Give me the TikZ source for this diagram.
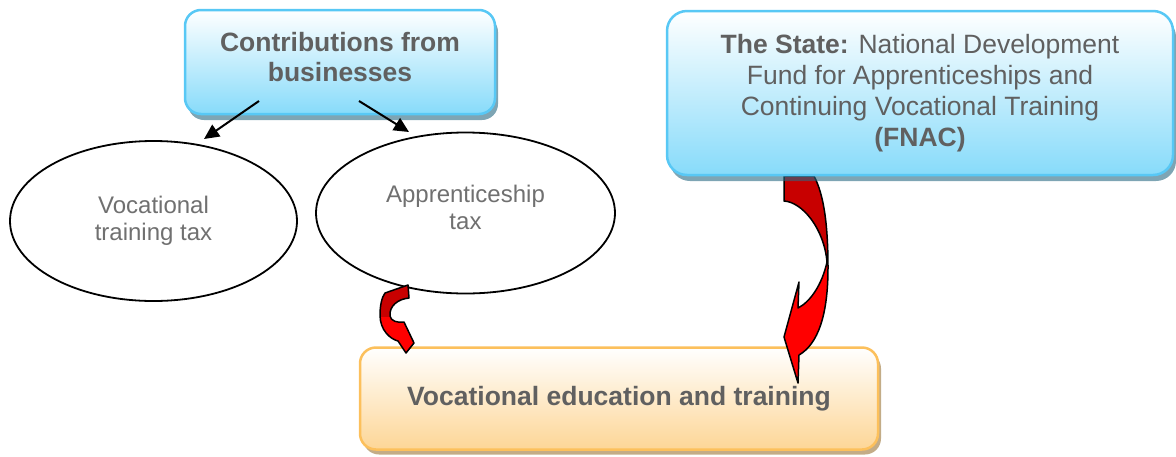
\documentclass[tikz,border=0pt]{standalone}
\usepackage{fontspec}
\setmainfont{Liberation Sans}
\usetikzlibrary{shapes.geometric,arrows.meta,shadows}
\definecolor{txtgray}{RGB}{96,96,96}
\definecolor{elltxt}{RGB}{112,112,112}
\definecolor{bluebot}{RGB}{135,219,250}
\definecolor{blueline}{RGB}{88,200,245}
\definecolor{blueshadow}{RGB}{40,105,130}
\definecolor{orangebot}{RGB}{253,214,150}
\definecolor{orangeline}{RGB}{252,192,92}
\definecolor{orangeshadow}{RGB}{195,172,135}
\definecolor{darkred}{RGB}{200,0,0}
\definecolor{brightred}{RGB}{255,0,0}
\begin{document}
\begin{tikzpicture}[x=1pt,y=-1pt,
  bluebox/.style={rectangle, rounded corners=16pt, draw=blueline, line width=2.5pt,
    top color=white, bottom color=bluebot, inner sep=0pt,
    drop shadow={shadow xshift=3pt, shadow yshift=-6pt, fill=blueshadow, opacity=0.6}},
  orangebox/.style={rectangle, rounded corners=16pt, draw=orangeline, line width=2.5pt,
    top color=white, bottom color=orangebot, inner sep=0pt,
    drop shadow={shadow xshift=3pt, shadow yshift=-5pt, fill=orangeshadow, opacity=1}},
  boldtxt/.style={font=\fontsize{26.5}{30}\selectfont\bfseries, text=txtgray, align=center, inner sep=0pt},
  ell/.style={ellipse, draw, line width=1.8pt, fill=white, inner sep=0pt,
    font=\fontsize{24}{27}\selectfont, text=elltxt, align=center},
  elltext/.style={font=\fontsize{24}{27}\selectfont, text=elltxt, align=center, inner sep=0pt},
  conn/.style={line width=2pt, -{Triangle[length=15pt,width=14pt]}},
  ribbon/.style={line width=1.5pt, line join=round}
]
\useasboundingbox (0,0) rectangle (1176,456);

% bottom box
\node[orangebox, minimum width=518pt, minimum height=102pt,
  font=\fontsize{26.5}{30}\selectfont\bfseries, text=txtgray] (vet) at (619,398.5)
  {Vocational education and training};

% ellipses
\node[ell, minimum width=287pt, minimum height=160pt] (vtt) at (153.5,221) {Vocational\\training tax};
\node[ell, minimum width=299pt, minimum height=161pt] (app) at (465.5,213) {};
\node[elltext] (apptxt) at (465.5,207) {Apprenticeship\\tax};

% small curved arrow
\def\smallarrow{(385,293) -- (408,285) -- (409,298)
  .. controls (398,299) and (389,306) .. (390,316)
  .. controls (391,321) and (397,323) .. (404,322)
  -- (414,343) -- (406,353) -- (398,341)
  .. controls (390,339) and (380,330) .. (380,315)
  .. controls (380,305) and (382,297) .. (385,293) -- cycle}
\begin{scope}
  \clip (370,280) rectangle (420,317);
  \fill[darkred] \smallarrow;
\end{scope}
\begin{scope}
  \clip (370,317) rectangle (420,360);
  \fill[brightred] \smallarrow;
\end{scope}
\draw[ribbon] \smallarrow;

% big curved arrow
\def\bigarrow{(784,176) -- (784,201)
  .. controls (802,202) and (824,228) .. (827,262)
  .. controls (822,285) and (810,302) .. (798,308)
  -- (799,282) -- (784,337) -- (798,383) -- (799,355)
  .. controls (818,344) and (828,315) .. (828,268)
  .. controls (828,225) and (824,195) .. (814,176) -- cycle}
\begin{scope}
  \clip (770,170) rectangle (840,266);
  \fill[darkred] \bigarrow;
\end{scope}
\begin{scope}
  \clip (770,266) rectangle (840,390);
  \fill[brightred] \bigarrow;
\end{scope}
\draw[ribbon] \bigarrow;

% top boxes
\node[bluebox, minimum width=310pt, minimum height=104pt] (contrib) at (340,62) {};
\node[boldtxt] (contribtxt) at (340,57) {Contributions from\\businesses};

\node[bluebox, rounded corners=20pt, minimum width=506pt, minimum height=164pt,
  font=\fontsize{26.5}{31}\selectfont, text=txtgray, align=center] (state) at (920,93)
  {\textbf{The State:} National Development\\Fund for Apprenticeships and\\Continuing Vocational Training\\\textbf{(FNAC)}};

% connectors
\coordinate (c1s) at (259,101);
\coordinate (c1e) at (204,139);
\coordinate (c2s) at (359,101);
\coordinate (c2e) at (409,132);
\draw[conn] (c1s) -- (c1e);
\draw[conn] (c2s) -- (c2e);
\end{tikzpicture}
\end{document}
